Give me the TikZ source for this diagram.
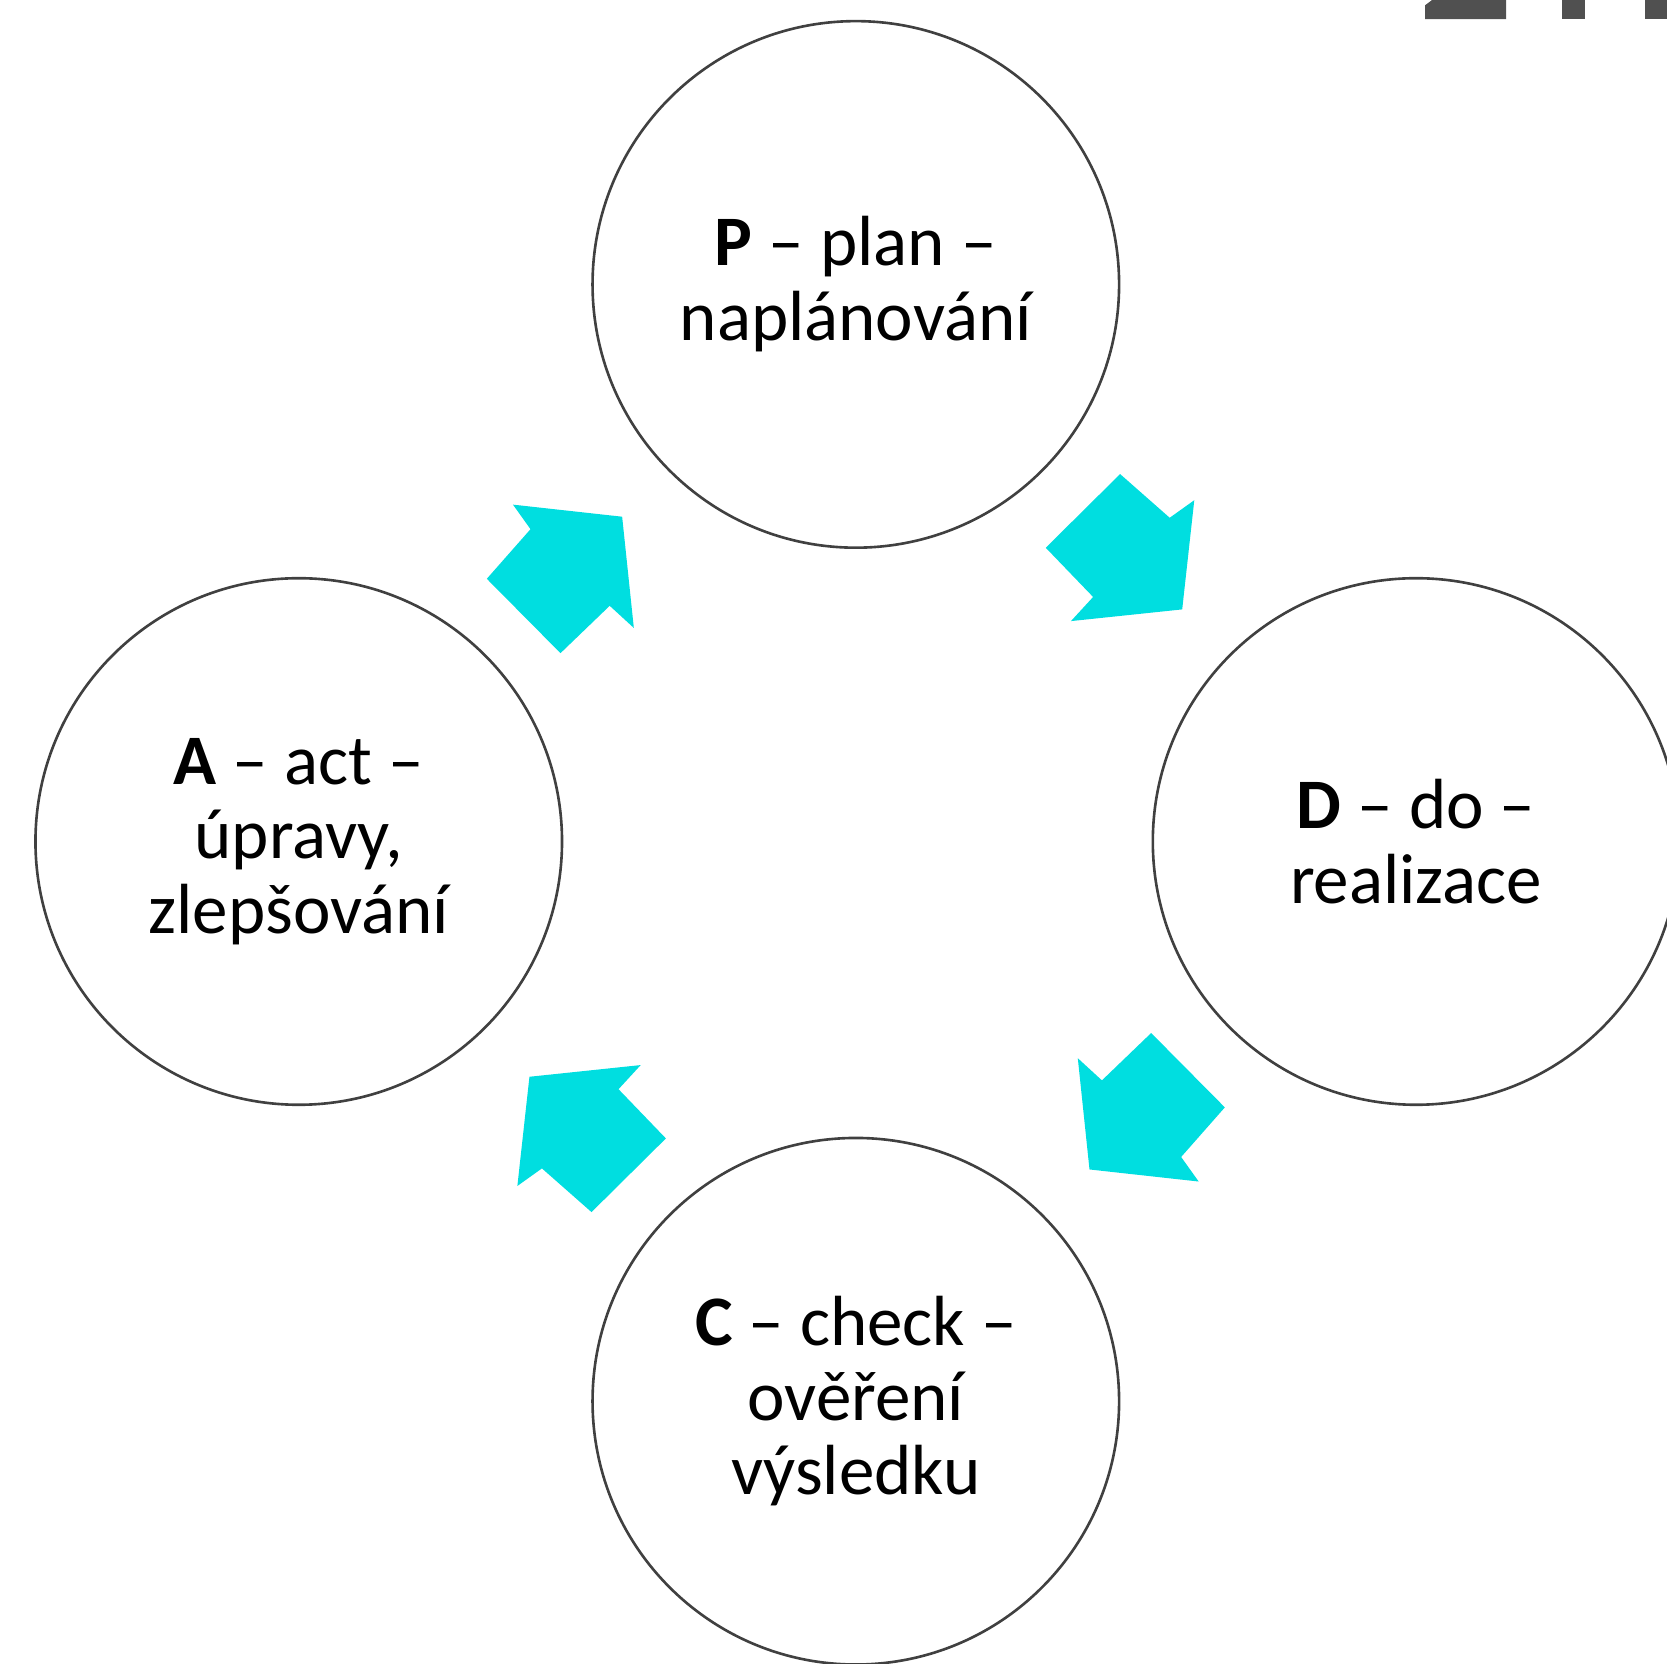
\documentclass[tikz,border=0pt]{standalone}
\usepackage{fontspec}
\setmainfont{Carlito}
\definecolor{cyc}{RGB}{0,222,224}
\definecolor{ring}{RGB}{64,64,64}
\definecolor{frag}{RGB}{80,80,80}
\begin{document}
\begin{tikzpicture}[x=0.01cm,y=-0.01cm,
  stage/.style={circle, draw=ring, line width=0.7pt, minimum size=4.95cm, inner sep=0pt,
    align=center, font=\fontsize{19pt}{20pt}\selectfont, text=black},
  blockarrow/.style={fill=cyc, draw=none},
  fragment/.style={fill=frag, draw=none}]
\useasboundingbox (0,0) rectangle (1568,1565);
\clip (0,0) rectangle (1568,1565);
\node[stage] (P) at (805,267.5) {\textbf{P} – plan –\\naplánování};
\node[stage] (D) at (1332,791.5) {\textbf{D} – do –\\realizace};
\node[stage] (C) at (805,1318) {\textbf{C} – check –\\ověření\\výsledku};
\node[stage] (A) at (281,791.5) {\textbf{A} – act –\\úpravy,\\zlepšování};
\coordinate (ctr) at (805,793);
\foreach \a in {0,-90,-180,-270}{
  \fill[blockarrow, rotate around={\a:(ctr)}] (983.65,515.2) -- (1053.6,445.9) -- (1100.25,487)
    -- (1123.35,470.5) -- (1112,573.2) -- (1007.35,584.2) -- (1028.2,561.5) -- cycle;
}
% cut-off fragments of a large heading at the top right
\fill[fragment] (1340.4,17.9) -- (1340.4,5) -- (1347,0) -- (1416.6,0) -- (1416.6,17.9) -- cycle;
\fill[fragment] (1469,0) rectangle (1490.9,17.9);
\fill[fragment] (1547.4,0) rectangle (1570,17.9);
\end{tikzpicture}
\end{document}
